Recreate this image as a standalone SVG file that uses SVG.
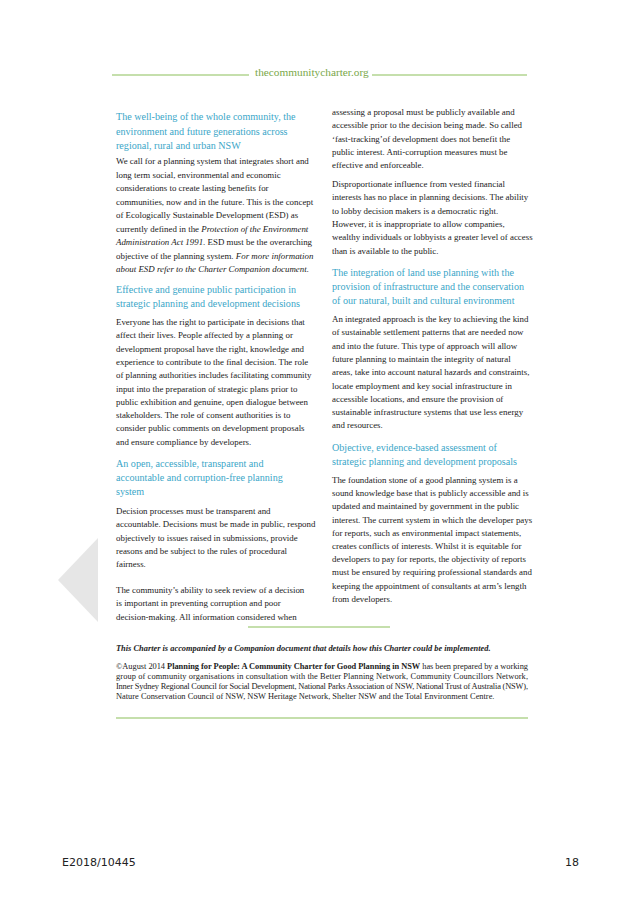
<svg xmlns="http://www.w3.org/2000/svg" width="638" height="900" viewBox="0 0 638 900">
<style>
.b{font-family:"Liberation Serif",serif;font-size:8.9px;fill:#222}
.h{font-family:"Liberation Serif",serif;font-size:10.1px;fill:#3aa6c8}
.g{stroke:#8cbf5a;stroke-width:1.2}
.s{font-family:"Liberation Serif",serif;font-size:8.4px;fill:#222}
.f{font-family:"DejaVu Sans",sans-serif;font-size:11px;fill:#222}
</style>
<rect width="638" height="900" fill="#fff"/>
<polygon points="98,538 58,580 98,622" fill="#e6e6e6"/>
<line class="g" x1="112" y1="75" x2="249" y2="75"/>
<text x="255" y="76" style="font-family:'Liberation Serif',serif;font-size:11.3px;fill:#7aa84a">thecommunitycharter.org</text>
<line class="g" x1="372" y1="75" x2="527" y2="75"/>
<g id="col1">
<text class="h" x="116" y="120">The well-being of the whole community, the</text>
<text class="h" x="116" y="135">environment and future generations across</text>
<text class="h" x="116" y="149">regional, rural and urban NSW</text>
<text class="b" x="116" y="164">We call for a planning system that integrates short and</text>
<text class="b" x="116" y="177.5">long term social, environmental and economic</text>
<text class="b" x="116" y="191">considerations to create lasting benefits for</text>
<text class="b" x="116" y="204.5">communities, now and in the future. This is the concept</text>
<text class="b" x="116" y="218">of Ecologically Sustainable Development (ESD) as</text>
<text class="b" x="116" y="231.5">currently defined in the <tspan font-style="italic">Protection of the Environment</tspan></text>
<text class="b" x="116" y="245"><tspan font-style="italic">Administration Act 1991</tspan>. ESD must be the overarching</text>
<text class="b" x="116" y="258.5">objective of the planning system. <tspan font-style="italic">For more information</tspan></text>
<text class="b" x="116" y="272" font-style="italic">about ESD refer to the Charter Companion document.</text>
<text class="h" x="116" y="293">Effective and genuine public participation in</text>
<text class="h" x="116" y="307">strategic planning and development decisions</text>
<text class="b" x="116" y="325">Everyone has the right to participate in decisions that</text>
<text class="b" x="116" y="338.3">affect their lives. People affected by a planning or</text>
<text class="b" x="116" y="351.6">development proposal have the right, knowledge and</text>
<text class="b" x="116" y="364.9">experience to contribute to the final decision. The role</text>
<text class="b" x="116" y="378.2">of planning authorities includes facilitating community</text>
<text class="b" x="116" y="391.5">input into the preparation of strategic plans prior to</text>
<text class="b" x="116" y="404.8">public exhibition and genuine, open dialogue between</text>
<text class="b" x="116" y="418.1">stakeholders. The role of consent authorities is to</text>
<text class="b" x="116" y="431.4">consider public comments on development proposals</text>
<text class="b" x="116" y="444.7">and ensure compliance by developers.</text>
<text class="h" x="116" y="467">An open, accessible, transparent and</text>
<text class="h" x="116" y="481">accountable and corruption-free planning</text>
<text class="h" x="116" y="495">system</text>
<text class="b" x="116" y="514">Decision processes must be transparent and</text>
<text class="b" x="116" y="527.3">accountable. Decisions must be made in public, respond</text>
<text class="b" x="116" y="540.6">objectively to issues raised in submissions, provide</text>
<text class="b" x="116" y="553.9">reasons and be subject to the rules of procedural</text>
<text class="b" x="116" y="567.2">fairness.</text>
<text class="b" x="116" y="593">The community’s ability to seek review of a decision</text>
<text class="b" x="116" y="606.3">is important in preventing corruption and poor</text>
<text class="b" x="116" y="619.6">decision-making. All information considered when</text>
</g>
<g id="col2">
<text class="b" x="332" y="115">assessing a proposal must be publicly available and</text>
<text class="b" x="332" y="128.3">accessible prior to the decision being made. So called</text>
<text class="b" x="332" y="141.6">‘fast-tracking’of development does not benefit the</text>
<text class="b" x="332" y="154.9">public interest. Anti-corruption measures must be</text>
<text class="b" x="332" y="168.2">effective and enforceable.</text>
<text class="b" x="332" y="187">Disproportionate influence from vested financial</text>
<text class="b" x="332" y="200.3">interests has no place in planning decisions. The ability</text>
<text class="b" x="332" y="213.6">to lobby decision makers is a democratic right.</text>
<text class="b" x="332" y="226.9">However, it is inappropriate to allow companies,</text>
<text class="b" x="332" y="240.2">wealthy individuals or lobbyists a greater level of access</text>
<text class="b" x="332" y="253.5">than is available to the public.</text>
<text class="h" x="332" y="276">The integration of land use planning with the</text>
<text class="h" x="332" y="290">provision of infrastructure and the conservation</text>
<text class="h" x="332" y="304">of our natural, built and cultural environment</text>
<text class="b" x="332" y="322">An integrated approach is the key to achieving the kind</text>
<text class="b" x="332" y="335.3">of sustainable settlement patterns that are needed now</text>
<text class="b" x="332" y="348.6">and into the future. This type of approach will allow</text>
<text class="b" x="332" y="361.9">future planning to maintain the integrity of natural</text>
<text class="b" x="332" y="375.2">areas, take into account natural hazards and constraints,</text>
<text class="b" x="332" y="388.5">locate employment and key social infrastructure in</text>
<text class="b" x="332" y="401.8">accessible locations, and ensure the provision of</text>
<text class="b" x="332" y="415.1">sustainable infrastructure systems that use less energy</text>
<text class="b" x="332" y="428.4">and resources.</text>
<text class="h" x="332" y="451">Objective, evidence-based assessment of</text>
<text class="h" x="332" y="465">strategic planning and development proposals</text>
<text class="b" x="332" y="483">The foundation stone of a good planning system is a</text>
<text class="b" x="332" y="496.2">sound knowledge base that is publicly accessible and is</text>
<text class="b" x="332" y="509.4">updated and maintained by government in the public</text>
<text class="b" x="332" y="522.6">interest. The current system in which the developer pays</text>
<text class="b" x="332" y="535.8">for reports, such as environmental impact statements,</text>
<text class="b" x="332" y="549">creates conflicts of interests. Whilst it is equitable for</text>
<text class="b" x="332" y="562.2">developers to pay for reports, the objectivity of reports</text>
<text class="b" x="332" y="575.4">must be ensured by requiring professional standards and</text>
<text class="b" x="332" y="588.6">keeping the appointment of consultants at arm’s length</text>
<text class="b" x="332" y="601.8">from developers.</text>
</g>
<g id="footer-block">
<line class="g" x1="248" y1="627" x2="390" y2="627"/>
<text class="s" x="116" y="651" font-size="8.8" font-weight="bold" font-style="italic">This Charter is accompanied by a Companion document that details how this Charter could be implemented.</text>
<text class="s" x="116" y="669" textLength="412" lengthAdjust="spacing">©August 2014  <tspan font-weight="bold">Planning for People: A Community Charter for Good Planning in NSW</tspan> has been prepared by a working</text>
<text class="s" x="116" y="679" textLength="412" lengthAdjust="spacing">group of community organisations in consultation with the Better Planning Network, Community Councillors Network,</text>
<text class="s" x="116" y="689" textLength="412" lengthAdjust="spacing">Inner Sydney Regional Council for Social Development, National Parks Association of NSW, National Trust of Australia (NSW),</text>
<text class="s" x="116" y="699">Nature Conservation Council of NSW, NSW Heritage Network, Shelter NSW and the Total Environment Centre.</text>
<line class="g" x1="116" y1="718" x2="528" y2="718"/>
</g>
<text class="f" x="62" y="866">E2018/10445</text>
<text class="f" x="565" y="866">18</text>
</svg>
